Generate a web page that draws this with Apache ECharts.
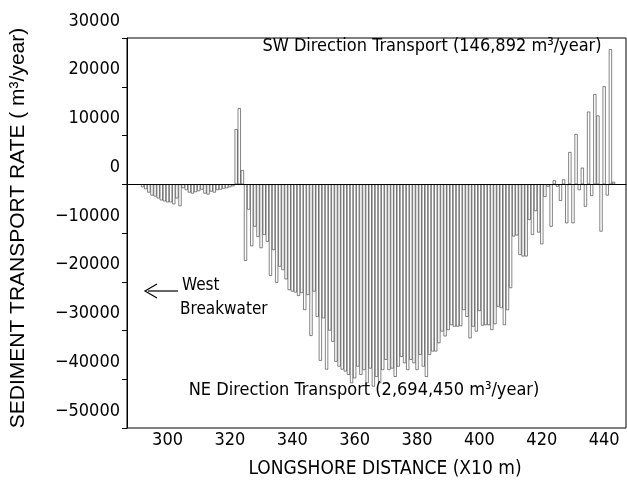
<!DOCTYPE html>
<html>
<head>
<meta charset="utf-8">
<script src="https://cdn.jsdelivr.net/npm/echarts@6/dist/echarts.min.js"></script>
<style>
  html, body { margin: 0; padding: 0; background: #fff; }
  #container { width: 627px; height: 486px; }
</style>
</head>
<body>
<div id="container"></div>
<script>
// longshore distance (x10 m) of each bar
var distance = [
    292, 293, 294, 295, 296, 297, 298, 299, 300, 301,
    302, 303, 304, 305, 306, 307, 308, 309, 310, 311,
    312, 313, 314, 315, 316, 317, 318, 319, 320, 321,
    322, 323, 324, 325, 326, 327, 328, 329, 330, 331,
    332, 333, 334, 335, 336, 337, 338, 339, 340, 341,
    342, 343, 344, 345, 346, 347, 348, 349, 350, 351,
    352, 353, 354, 355, 356, 357, 358, 359, 360, 361,
    362, 363, 364, 365, 366, 367, 368, 369, 370, 371,
    372, 373, 374, 375, 376, 377, 378, 379, 380, 381,
    382, 383, 384, 385, 386, 387, 388, 389, 390, 391,
    392, 393, 394, 395, 396, 397, 398, 399, 400, 401,
    402, 403, 404, 405, 406, 407, 408, 409, 410, 411,
    412, 413, 414, 415, 416, 417, 418, 419, 420, 421,
    422, 423, 424, 425, 426, 427, 428, 429, 430, 431,
    432, 433, 434, 435, 436, 437, 438, 439, 440, 441,
    442, 443
];
// sediment transport rate (m3/year), + = SW, - = NE
var transport = [
    -600, -1000, -1700, -2300, -2500, -2900, -3300, -3500, -3700, -3700,
    -4100, -2900, -4500, -800, -1200, -1700, -1900, -1600, -1400, -1100,
    -1900, -2100, -1500, -1700, -1200, -1100, -900, -800, -600, -400,
    11300, 15600, 2900, -15700, -5200, -12700, -8700, -10800, -13100, -10400,
    -11800, -18800, -13500, -20200, -16900, -17600, -19500, -21700, -22000, -22200,
    -22900, -22300, -25800, -22700, -31100, -22000, -27200, -36200, -27500, -38000,
    -30000, -32300, -36400, -37400, -38000, -38400, -39100, -40800, -39800, -37400,
    -39100, -38100, -40800, -37800, -41500, -39500, -40800, -38100, -36000, -38100,
    -37800, -39500, -37400, -35400, -36700, -38100, -36000, -36700, -38100, -35000,
    -37400, -39500, -35000, -34300, -34300, -32600, -30200, -31200, -29900, -28900,
    -29200, -29200, -29100, -25800, -27200, -31600, -29200, -30200, -26000, -29000,
    -28900, -28900, -29900, -28700, -25100, -25400, -28900, -25800, -21300, -10700,
    -10500, -14500, -14800, -14800, -7300, -10400, -5500, -9900, -12300, -2600,
    -500, -8700, 800, -500, -3400, 1000, -8000, 6600, -8000, 10300,
    -1200, 3400, -4600, 14900, -2400, 18500, 14100, -9700, 20100, -2300,
    27700, 500
];
var yTicks = [30000, 20000, 10000, 0, -10000, -20000, -30000, -40000, -50000];
var xTicks = [300, 320, 340, 360, 380, 400, 420, 440];

var FONT = "'DejaVu Sans Condensed', 'Liberation Sans', Arial, sans-serif";
var FONT_WIDE = "'Liberation Sans', Arial, sans-serif";

var dom = document.getElementById("container");
var myChart = echarts.init(dom, null, { renderer: 'canvas' });

var barData = distance.map(function(d, i) { return [d, transport[i]]; });

var option = {
    animation: false,
    backgroundColor: '#fff',
    grid: {
        left: 127, right: 1, top: 38, bottom: 58,
        show: true, borderColor: '#000', borderWidth: 1
    },
    xAxis: {
        type: 'value',
        min: 287, max: 447,
        axisLine: { show: true, lineStyle: { color: '#000', width: 1 } },
        axisTick: { show: false },
        splitLine: { show: false },
        axisLabel: {
            show: true, color: '#000', fontFamily: FONT, fontSize: 18, margin: 3,
            customValues: xTicks
        }
    },
    yAxis: {
        type: 'value',
        min: -50000, max: 30000, interval: 10000,
        axisLine: { show: true, lineStyle: { color: '#000', width: 1 } },
        axisTick: { show: true, length: 5, lineStyle: { color: '#000' } },
        splitLine: { show: false },
        axisLabel: {
            color: '#000', fontFamily: FONT, fontSize: 18, margin: 7,
            // labels sit ~17px above their tick in the original
            verticalAlign: 'bottom', lineHeight: 34,
            formatter: function(v) {
                return yTicks.indexOf(v) >= 0 ? String(v).replace('-', '\u2212') : '';
            }
        }
    },
    series: [{
        type: 'bar',
        data: barData,
        barWidth: 3.1,
        itemStyle: { color: '#fff', borderColor: '#333', borderWidth: 0.6 },
        markLine: {
            silent: true, symbol: 'none',
            label: { show: false },
            lineStyle: { color: '#000', type: 'solid', width: 1.2 },
            data: [{ yAxis: 0 }]
        }
    }],
    graphic: [
        {
            type: 'text', x: 18, y: 228, rotation: Math.PI / 2,
            style: {
                text: 'SEDIMENT TRANSPORT RATE ( m\u00b3/year)',
                fill: '#000', font: '21px ' + FONT_WIDE,
                textAlign: 'center', textVerticalAlign: 'middle'
            }
        },
        {
            type: 'text', x: 385, y: 469,
            style: {
                text: 'LONGSHORE DISTANCE (X10 m)',
                fill: '#000', font: '19px ' + FONT,
                textAlign: 'center', textVerticalAlign: 'middle'
            }
        },
        {
            type: 'text', x: 432, y: 46, z: 100,
            style: {
                text: 'SW Direction Transport (146,892 m\u00b3/year)',
                fill: '#000', font: '18px ' + FONT,
                textAlign: 'center', textVerticalAlign: 'middle'
            }
        },
        {
            type: 'text', x: 364, y: 390, z: 100,
            style: {
                text: 'NE Direction Transport (2,694,450 m\u00b3/year)',
                fill: '#000', font: '18px ' + FONT,
                textAlign: 'center', textVerticalAlign: 'middle'
            }
        },
        {
            type: 'text', x: 182, y: 286,
            style: { text: 'West', fill: '#000', font: '17px ' + FONT, textAlign: 'left', textVerticalAlign: 'middle' }
        },
        {
            type: 'text', x: 180, y: 310,
            style: { text: 'Breakwater', fill: '#000', font: '17px ' + FONT, textAlign: 'left', textVerticalAlign: 'middle' }
        },
        {
            type: 'polyline',
            shape: { points: [[157, 284], [145, 291], [157, 298]] },
            style: { stroke: '#000', lineWidth: 1.2, fill: null }
        },
        {
            type: 'line',
            shape: { x1: 148, y1: 291, x2: 178, y2: 291 },
            style: { stroke: '#000', lineWidth: 1.2 }
        }
    ]
};
myChart.setOption(option, true);
</script>
</body>
</html>
